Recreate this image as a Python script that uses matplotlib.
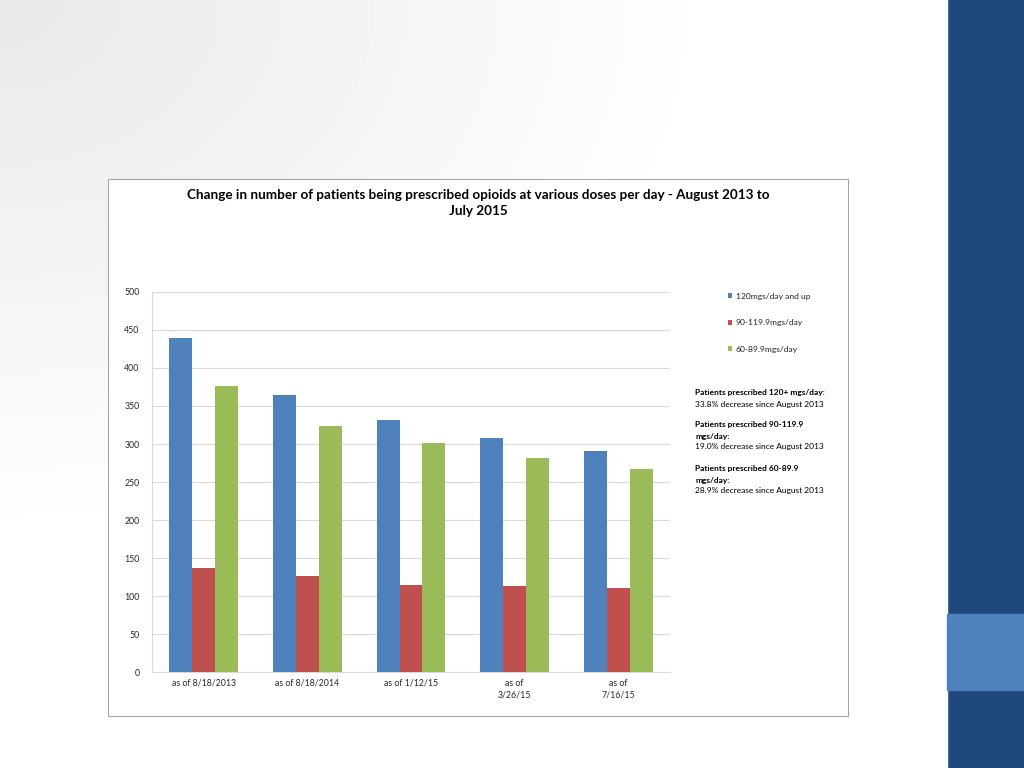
import matplotlib
matplotlib.use("Agg")
import matplotlib.pyplot as plt
import matplotlib.patches as mpatches
import numpy as np

plt.rcParams['font.family'] = ['Lato', 'DejaVu Sans']

categories = ["as of 8/18/2013", "as of 8/18/2014", "as of 1/12/15", "as of\n3/26/15", "as of\n7/16/15"]
series_names = ["120mgs/day and up", "90-119.9mgs/day", "60-89.9mgs/day"]
dose_120 = [440, 365, 332, 308, 291]
dose_90 = [137, 126, 114, 113, 111]
dose_60 = [376, 324, 301, 282, 267]
colors = ['#4f81bd', '#c0504d', '#9bbb59']

notes = [
    ("Patients prescribed 120+ mgs/day:", True),
    ("33.8% decrease since August 2013", False),
    ("Patients prescribed 90-119.9", True),
    ("mgs/day:", True),
    ("19.0% decrease since August 2013", False),
    ("Patients prescribed 60-89.9", True),
    ("mgs/day:", True),
    ("28.9% decrease since August 2013", False),
]
note_y = [393, 404, 425, 436, 447, 469, 480, 491]

W, H = 1024, 768
fig = plt.figure(figsize=(W / 100, H / 100), dpi=100)

# slide background: soft gray vignette top-left fading to white
bg = fig.add_axes([0, 0, 1, 1])
yy, xx = np.mgrid[0:H, 0:W]
d = np.sqrt((xx / W) ** 2 + (yy / H) ** 2)
shade = np.clip(0.91 + 0.09 * d / 0.7, 0, 1)
bg.imshow(shade, cmap='gray', vmin=0, vmax=1, extent=[0, W, H, 0], aspect='auto')
bg.set_xlim(0, W)
bg.set_ylim(H, 0)
bg.axis('off')

# right-hand bands
bg.add_patch(mpatches.Rectangle((947, 0), W - 947, H, color='#1f497d', zorder=2))
bg.add_patch(mpatches.Rectangle((947, 614), W - 947, 76, color='#4f81bd', zorder=3))
bg.add_patch(mpatches.Rectangle((940, 0), 7, H, color='#ffffff', zorder=2))

# chart area box
bg.add_patch(mpatches.Rectangle((108, 179), 740, 537, facecolor='white',
                                edgecolor='#a6a6a6', linewidth=0.8, zorder=4))

ax = fig.add_axes([152 / W, 1 - 672 / H, 518 / W, 380 / H], zorder=5)
ax.set_facecolor('none')
x = np.arange(len(categories))
bw = 0.222
for i, (vals, name) in enumerate(zip([dose_120, dose_90, dose_60], series_names)):
    ax.bar(x + (i - 1) * bw, vals, width=bw, color=colors[i], label=name, zorder=3)

ax.set_xlim(-0.5, len(categories) - 0.5)
ax.set_ylim(0, 500)
ax.set_yticks(range(0, 501, 50))
ax.set_xticks(x)
ax.set_xticklabels(categories, fontsize=6.3, color='#262626', linespacing=1.3)
ax.tick_params(axis='y', labelsize=6.3, labelcolor='#262626', length=0, pad=9)
ax.tick_params(axis='x', length=0, pad=5)
ax.grid(axis='y', color='#d9d9d9', linewidth=0.8, zorder=0)
for s in ['top', 'right']:
    ax.spines[s].set_visible(False)
ax.spines['left'].set_color('#d9d9d9')
ax.spines['bottom'].set_color('#d9d9d9')

fig.text(478 / W, 1 - 203 / H,
         "Change in number of patients being prescribed opioids at various doses per day - August 2013 to\nJuly 2015",
         ha='center', va='center', fontsize=9.7, fontweight='bold', color='#000000',
         linespacing=1.45, zorder=6)

leg = fig.legend(loc='upper left', bbox_to_anchor=(720 / W, 1 - 285 / H), frameon=False,
                 fontsize=6.1, handlelength=0.55, handleheight=0.55, handletextpad=0.4,
                 labelspacing=2.3)
for t in leg.get_texts():
    t.set_color('#262626')
leg.set_zorder(6)

for (txt, bold), yp in zip(notes, note_y):
    fig.text(695 / W, 1 - yp / H, txt, ha='left', va='center', fontsize=6.0,
             fontweight='bold' if bold else 'normal', color='#000000', zorder=6)

fig.savefig('out.png', dpi=100)
